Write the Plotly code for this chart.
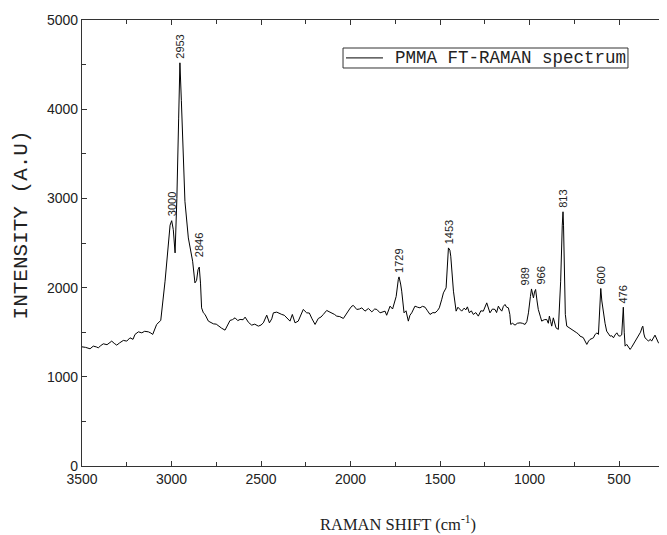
import plotly.graph_objects as go

# Raman shift (cm-1) and intensity (A.U)
wavenumber = [3500, 3480, 3455, 3437, 3420, 3409, 3395, 3381, 3360, 3345, 3334, 3320, 3306, 3290, 3269, 3250,
              3232, 3215, 3204, 3185, 3166, 3150, 3129, 3115, 3105, 3083, 3060, 3036, 3018, 3008, 2999, 2990,
              2980, 2970, 2960, 2953, 2945, 2934, 2925, 2906, 2882, 2869, 2860, 2852, 2845, 2838, 2832, 2822,
              2813, 2794, 2780, 2766, 2750, 2738, 2720, 2701, 2685, 2673, 2660, 2645, 2630, 2617, 2600, 2589,
              2570, 2552, 2535, 2515, 2500, 2487, 2468, 2453, 2440, 2431, 2412, 2398, 2384, 2370, 2356, 2338,
              2325, 2310, 2292, 2275, 2264, 2245, 2230, 2215, 2198, 2180, 2165, 2152, 2133, 2120, 2105, 2090,
              2077, 2060, 2040, 2021, 2005, 1993, 1984, 1965, 1950, 1937, 1919, 1900, 1881, 1865, 1853, 1835,
              1817, 1807, 1798, 1779, 1765, 1755, 1745, 1733, 1729, 1720, 1714, 1701, 1690, 1677, 1668, 1658,
              1650, 1640, 1625, 1612, 1598, 1584, 1570, 1556, 1540, 1528, 1515, 1504, 1490, 1481, 1466, 1458,
              1453, 1445, 1440, 1425, 1410, 1400, 1390, 1379, 1365, 1356, 1347, 1336, 1325, 1314, 1300, 1286,
              1272, 1258, 1239, 1230, 1221, 1207, 1193, 1184, 1174, 1165, 1155, 1146, 1137, 1128, 1118, 1110,
              1105, 1095, 1081, 1068, 1053, 1040, 1025, 1015, 1006, 995, 989, 980, 978, 972, 966, 958,
              951, 940, 932, 918, 904, 895, 889, 882, 876, 867, 860, 852, 839, 826, 817, 813,
              810, 806, 800, 792, 778, 764, 750, 736, 727, 718, 700, 690, 680, 670, 662, 650,
              643, 635, 624, 615, 608, 602, 596, 587, 578, 569, 560, 550, 540, 531, 522, 512,
              503, 494, 485, 479, 476, 471, 466, 457, 448, 438, 430, 420, 405, 392, 380, 370,
              367, 361, 355, 345, 336, 325, 318, 299, 290, 280, 270, 261, 252, 243, 235]
intensity = [1336, 1330, 1314, 1344, 1335, 1325, 1350, 1370, 1360, 1385, 1400, 1375, 1355, 1380, 1408, 1400,
             1437, 1420, 1475, 1504, 1493, 1510, 1504, 1490, 1475, 1587, 1632, 2072, 2445, 2700, 2750, 2650,
             2389, 3000, 3900, 4520, 4100, 3528, 2968, 2557, 2296, 2053, 2080, 2200, 2230, 2050, 1773, 1717,
             1700, 1624, 1610, 1594, 1590, 1568, 1545, 1523, 1580, 1632, 1640, 1661, 1630, 1643, 1640, 1669,
             1610, 1579, 1590, 1568, 1580, 1605, 1691, 1605, 1650, 1717, 1725, 1710, 1699, 1690, 1661, 1624,
             1699, 1605, 1624, 1700, 1755, 1717, 1715, 1650, 1587, 1654, 1670, 1699, 1744, 1730, 1717, 1700,
             1680, 1675, 1654, 1717, 1760, 1792, 1800, 1755, 1760, 1773, 1736, 1766, 1728, 1760, 1755, 1717,
             1730, 1736, 1690, 1792, 1760, 1848, 1900, 2091, 2120, 2040, 1960, 1717, 1740, 1624, 1690, 1717,
             1760, 1792, 1780, 1773, 1790, 1781, 1740, 1699, 1720, 1717, 1740, 1773, 1870, 1941, 1997, 2300,
             2445, 2420, 2352, 1960, 1736, 1780, 1760, 1736, 1770, 1750, 1784, 1717, 1740, 1699, 1720, 1680,
             1740, 1736, 1829, 1760, 1717, 1760, 1755, 1720, 1792, 1760, 1736, 1790, 1811, 1780, 1773, 1700,
             1587, 1600, 1579, 1600, 1605, 1600, 1587, 1620, 1717, 1900, 1985, 1900, 1885, 1950, 1979, 1850,
             1755, 1680, 1624, 1640, 1643, 1600, 1680, 1620, 1568, 1661, 1600, 1549, 1531, 2072, 2700, 2850,
             2700, 2072, 1700, 1568, 1550, 1531, 1520, 1493, 1480, 1456, 1440, 1400, 1363, 1400, 1419, 1430,
             1437, 1470, 1493, 1475, 1700, 1990, 1850, 1699, 1600, 1512, 1480, 1456, 1460, 1437, 1470, 1493,
             1460, 1456, 1470, 1700, 1780, 1500, 1344, 1363, 1330, 1307, 1330, 1363, 1410, 1456, 1500, 1560,
             1568, 1480, 1437, 1420, 1400, 1420, 1400, 1467, 1420, 1381, 1370, 1363, 1400, 1419, 1440]

# Peak labels
peak_positions = [3000, 2953, 2846, 1729, 1453, 989, 966, 813, 600, 476]
peak_values = [2750, 4520, 2230, 2120, 2445, 1985, 1985, 2850, 1990, 1780]
peak_texts = ["3000", "2953", "2846", "1729", "1453", "989", "966", "813", "600", "476"]

x_ticks = [3500, 3000, 2500, 2000, 1500, 1000, 500]
y_ticks = [0, 1000, 2000, 3000, 4000, 5000]

series_name = "PMMA FT-RAMAN spectrum"

TXT = "#222222"
AX = "#333333"
tick_font = dict(family="Liberation Sans, Arial, sans-serif", size=14, color=TXT)
mono = "Liberation Mono, Courier New, monospace"

fig = go.Figure()
fig.add_trace(go.Scatter(
    x=wavenumber, y=intensity, mode="lines",
    line=dict(color="black", width=1),
    name=series_name, showlegend=False,
))

xshift = {"989": -7, "966": 5}
yshift = {"2846": 8}
for pos, val, txt in zip(peak_positions, peak_values, peak_texts):
    fig.add_annotation(
        x=pos, y=val, text=txt, showarrow=False, textangle=-90,
        xanchor="center", yanchor="bottom",
        xshift=xshift.get(txt, 0), yshift=yshift.get(txt, 2),
        font=dict(family="Liberation Sans, Arial, sans-serif", size=11, color=TXT),
    )

# legend box (drawn in paper coordinates)
fig.add_shape(type="rect", xref="paper", yref="paper",
              x0=0.4462, x1=0.9333, y0=0.8924, y1=0.9372,
              line=dict(color=AX, width=1), fillcolor="white", layer="above")
fig.add_shape(type="line", xref="paper", yref="paper",
              x0=0.4513, x1=0.5145, y0=0.915, y1=0.915,
              line=dict(color="black", width=1), layer="above")
fig.add_annotation(
    x=0.5316, y=0.915, xref="paper", yref="paper", text=series_name,
    showarrow=False, xanchor="left", yanchor="middle",
    font=dict(family=mono, size=17.5, color=TXT),
)

# axis titles
fig.add_annotation(
    x=0.54, y=-0.128, xref="paper", yref="paper",
    text="RAMAN SHIFT (cm<sup>-1</sup>)", showarrow=False,
    xanchor="center", yanchor="middle",
    font=dict(family="Liberation Serif, DejaVu Serif, serif", size=16.5, color=TXT),
)
fig.add_annotation(
    x=-0.1026, y=0.5415, xref="paper", yref="paper",
    text="INTENSITY (A.U)", showarrow=False, textangle=-90,
    xanchor="center", yanchor="middle",
    font=dict(family=mono, size=21, color=TXT),
)

axis_common = dict(
    showgrid=False, zeroline=False, showline=True, linecolor=AX, linewidth=1.3,
    ticks="inside", ticklen=5, tickwidth=1.2, tickcolor=AX,
    tickfont=tick_font,
)

fig.update_xaxes(
    range=[3500, 232], tickvals=x_ticks, ticktext=[str(v) for v in x_ticks],
    mirror="allticks",
    minor=dict(ticks="inside", ticklen=4, tickwidth=1.2, tickcolor=AX, dtick=250, tick0=0),
    **axis_common,
)
fig.update_yaxes(
    range=[0, 5000], tickvals=y_ticks, ticktext=[str(v) for v in y_ticks],
    mirror=False,
    minor=dict(ticks="inside", ticklen=4, tickwidth=1.2, tickcolor=AX, dtick=500, tick0=0),
    **axis_common,
)

# the page body adds an 8px offset, so the figure is 8px smaller than the window
fig.update_layout(
    width=659, height=527,
    margin=dict(l=74, r=0, t=12, b=69),
    paper_bgcolor="white", plot_bgcolor="white",
    showlegend=False,
)

fig.write_html("out.html")
